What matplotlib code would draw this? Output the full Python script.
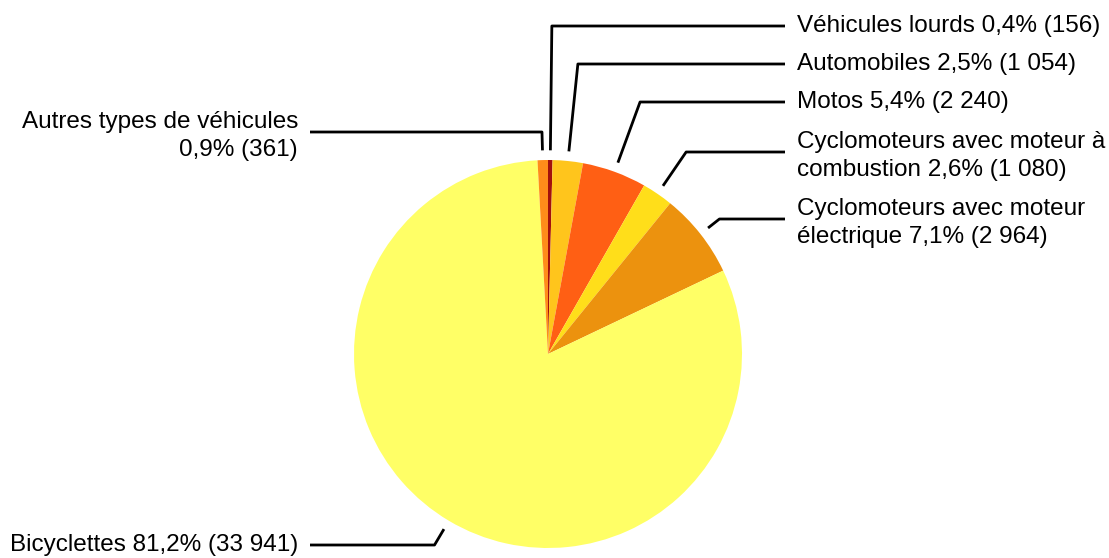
import numpy as np
import matplotlib.pyplot as plt

plt.rcParams['font.family'] = ['Liberation Sans', 'DejaVu Sans']

# slices in drawing order, clockwise from 12 o'clock
labels = ['Véhicules lourds 0,4% (156)',
          'Automobiles 2,5% (1 054)',
          'Motos 5,4% (2 240)',
          'Cyclomoteurs avec moteur à\ncombustion 2,6% (1 080)',
          'Cyclomoteurs avec moteur\nélectrique 7,1% (2 964)',
          'Bicyclettes 81,2% (33 941)',
          'Autres types de véhicules\n0,9% (361)']
counts = [156, 1054, 2240, 1080, 2964, 33941, 361]
colors = ['#A3100C', '#FFC51C', '#FF5F14', '#FFDE1A', '#EC920E', '#FFFF66', '#FF8C1A']

# label rows (pixel y of the leader's horizontal part)
label_py = [26, 64, 102, 152, 219, 545, 132]

W, H = 1109, 558
cx, cy, R = 548, 354, 194

fig = plt.figure(figsize=(W / 100, H / 100), dpi=100)
ax = fig.add_axes([0, 0, 1, 1])

wedges, _ = ax.pie(counts, colors=colors, startangle=90, counterclock=False,
                   radius=1, wedgeprops=dict(linewidth=0))

ax.set_aspect('auto')
ax.set_xlim(-cx / R, (W - cx) / R)
ax.set_ylim(-(H - cy) / R, cy / R)
ax.axis('off')

right_x = (785 - cx) / R
left_x = (310 - cx) / R
for w, lab, py in zip(wedges, labels, label_py):
    mid = np.deg2rad((w.theta1 + w.theta2) / 2)
    dx, dy = np.cos(mid), np.sin(mid)
    ey = (cy - py) / R
    ex = ey / dy * dx
    sx, sy = 1.05 * dx, 1.05 * dy
    ty = ey - (4 / R if '\n' in lab else 0)
    if dx >= 0:
        ax.plot([sx, ex, right_x], [sy, ey, ey], color='black', lw=2,
                solid_capstyle='butt')
        ax.text(right_x + 12 / R, ty, lab, ha='left', va='center',
                fontsize=17.5, linespacing=1.3)
    else:
        ax.plot([sx, ex, left_x], [sy, ey, ey], color='black', lw=2,
                solid_capstyle='butt')
        ax.text(left_x - 12 / R, ty, lab, ha='right', va='center',
                fontsize=17.5, linespacing=1.3, multialignment='right')

plt.savefig('out.png', dpi=100)
